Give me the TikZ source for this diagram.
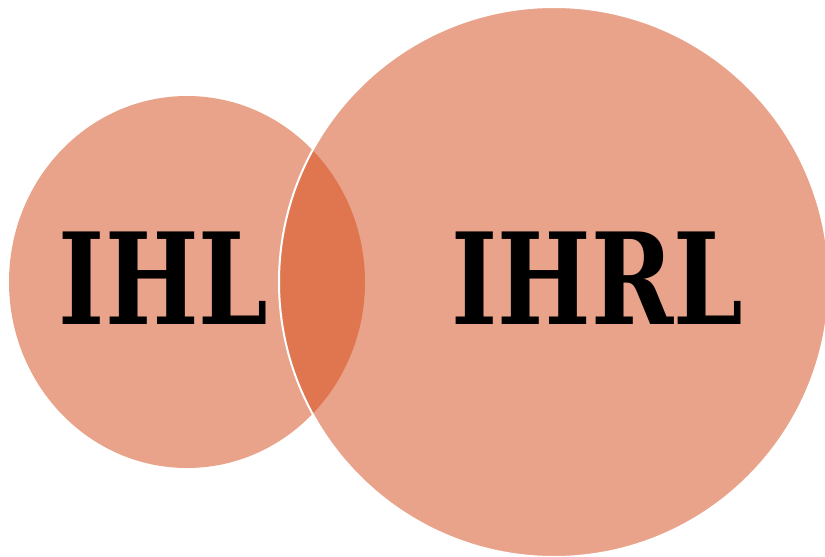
\documentclass[tikz,border=0pt]{standalone}
\usepackage{fontspec}
\newfontfamily\slabfont{DejaVu Serif}
\definecolor{salmon}{HTML}{E9A38A}
\definecolor{lens}{HTML}{DF7650}
\begin{document}
\begin{tikzpicture}[x=1pt,y=-1pt,
  label/.style={inner sep=0pt, xscale=0.78, font=\slabfont\bfseries\fontsize{127}{127}\selectfont, text=black}]
\useasboundingbox (0,0) rectangle (825,557);
\clip (0,0) rectangle (825,557);
\fill[salmon] (187,282) ellipse [x radius=178, y radius=186];
\fill[salmon] (554,282) circle (275);
\begin{scope}
  \clip (187,282) ellipse [x radius=178, y radius=186];
  \fill[lens] (554,282) circle (275);
\end{scope}
\draw[white, line width=2pt] (554,282) circle (275);
\node[label] (ihl) at (163.5,278.5) {IHL};
\node[label] (ihrl) at (597.5,278.5) {IHRL};
\end{tikzpicture}
\end{document}
